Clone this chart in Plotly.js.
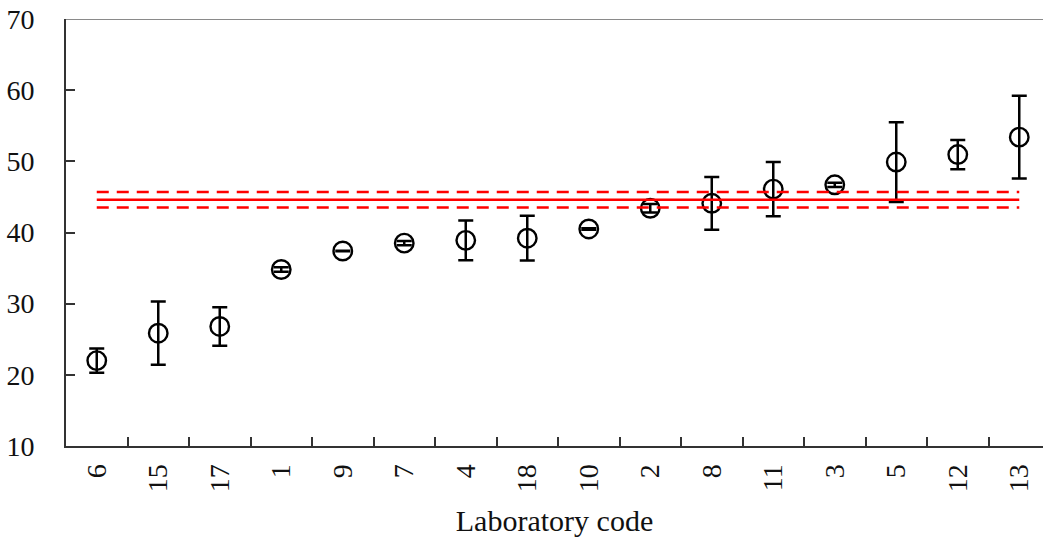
<!DOCTYPE html>
<html>
<head>
<meta charset="utf-8">
<script src="https://cdn.plot.ly/plotly-3.0.1.min.js"></script>
<style>html,body{margin:0;padding:0;background:#fff;overflow:hidden;}</style>
</head>
<body>
<div id="chart" style="width:1043px;height:543px;"></div>
<script>
// Laboratory codes (x categories, sorted by mean)
const labs = ['6','15','17','1','9','7','4','18','10','2','8','11','3','5','12','13'];
// Reported means per laboratory
const means = [22.0, 25.85, 26.8, 34.8, 37.4, 38.5, 38.9, 39.2, 40.5, 43.4, 44.1, 46.1, 46.7, 49.9, 50.95, 53.4];
// Uncertainties (half error-bar length)
const errs = [1.7, 4.45, 2.7, 0.3, 0.05, 0.3, 2.8, 3.15, 0.1, 0.6, 3.7, 3.8, 0.3, 5.6, 2.05, 5.8];
// Consensus value and its uncertainty band
const consensus = 44.6;
const consensusU = 1.1;
// Y axis ticks
const yTicks = [10, 20, 30, 40, 50, 60, 70];

const serif = '"Liberation Serif", "Times New Roman", Times, serif';
const first = labs[0], last = labs[labs.length - 1];

const traces = [
  {
    x: labs, y: means, type: 'scatter', mode: 'markers',
    marker: {symbol: 'circle-open', size: 18.5, color: '#000', line: {color: '#000', width: 2.4}},
    error_y: {type: 'data', array: errs, visible: true, color: '#000', thickness: 2.5, width: 7.5},
    showlegend: false
  },
  {
    x: [first, last], y: [consensus + consensusU, consensus + consensusU],
    mode: 'lines', line: {color: '#ff0000', width: 2.5, dash: '12px,8px'},
    hoverinfo: 'skip', showlegend: false
  },
  {
    x: [first, last], y: [consensus - consensusU, consensus - consensusU],
    mode: 'lines', line: {color: '#ff0000', width: 2.5, dash: '12px,8px'},
    hoverinfo: 'skip', showlegend: false
  },
  {
    x: [first, last], y: [consensus, consensus],
    mode: 'lines', line: {color: '#ff0000', width: 2.5},
    hoverinfo: 'skip', showlegend: false
  }
];

const layout = {
  width: 1043, height: 543,
  margin: {l: 66, r: 0, t: 19, b: 97},
  paper_bgcolor: '#fff', plot_bgcolor: '#fff',
  font: {family: serif, color: '#111', size: 28},
  showlegend: false,
  xaxis: {
    type: 'category',
    categoryorder: 'array',
    categoryarray: labs,
    range: [-0.5, 15.386],
    tickson: 'boundaries',
    ticks: 'inside', ticklen: 9, tickwidth: 2, tickcolor: '#333',
    showline: true, linecolor: '#333', linewidth: 2,
    showgrid: false, zeroline: false,
    tickangle: -90,
    tickfont: {family: serif, size: 28, color: '#111'},
    ticklabelstandoff: 5,
    title: {text: 'Laboratory code', font: {family: serif, size: 30, color: '#111'}, standoff: 19},
    automargin: false
  },
  yaxis: {
    range: [10, 70],
    tickvals: yTicks,
    ticktext: yTicks.map(String),
    ticks: 'inside', ticklen: 9, tickwidth: 2, tickcolor: '#333',
    showline: true, linecolor: '#333', linewidth: 2,
    showgrid: false, zeroline: false,
    tickfont: {family: serif, size: 28, color: '#111'},
    ticklabelstandoff: 24,
    automargin: false
  },
  shapes: [
    {type: 'line', xref: 'paper', yref: 'y', x0: 0, x1: 1, y0: yTicks[yTicks.length - 1], y1: yTicks[yTicks.length - 1],
     line: {color: '#8a8a8a', width: 2}, layer: 'above'}
  ]
};

Plotly.newPlot('chart', traces, layout, {staticPlot: true, displayModeBar: false});
</script>
</body>
</html>
